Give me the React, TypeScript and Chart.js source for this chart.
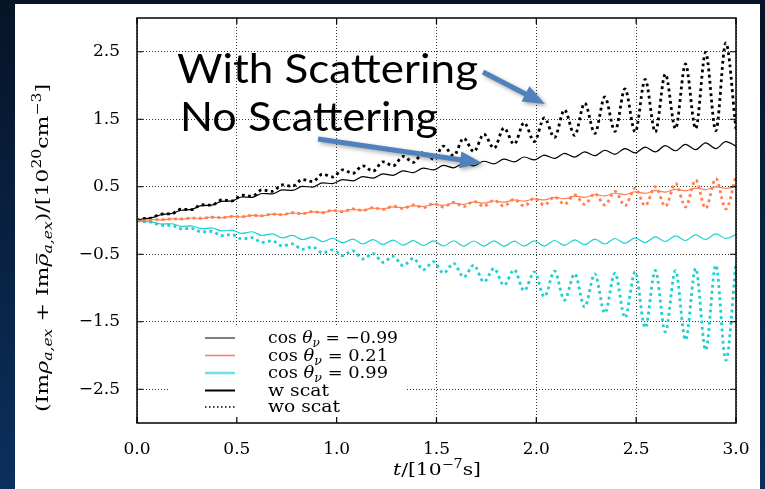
import React, { useEffect, useRef } from "react";
import { Chart, registerables } from "chart.js";
Chart.register(...registerables);

// time samples (units of 1e-7 s), read at the wave extrema
const T = [0.000, 0.020, 0.071, 0.121, 0.172, 0.222, 0.273, 0.323, 0.374, 0.424, 0.475, 0.525, 0.576, 0.626, 0.677, 0.727, 0.778, 0.828, 0.879, 0.929, 0.980,
  1.030, 1.081, 1.131, 1.182, 1.232, 1.283, 1.333, 1.384, 1.434, 1.485, 1.535, 1.586, 1.636, 1.687, 1.737, 1.788, 1.838, 1.889, 1.939, 1.990,
  2.040, 2.091, 2.141, 2.192, 2.242, 2.293, 2.343, 2.394, 2.444, 2.495, 2.545, 2.596, 2.646, 2.697, 2.747, 2.798, 2.848, 2.899, 2.949, 3.000];

// cos theta = -0.99
const NEG099_W = [0, 0.018, 0.040, 0.085, 0.102, 0.152, 0.165, 0.219, 0.227, 0.284, 0.291, 0.348, 0.344, 0.400, 0.394, 0.453, 0.445, 0.505, 0.495, 0.558, 0.546,
  0.607, 0.588, 0.650, 0.629, 0.692, 0.669, 0.735, 0.709, 0.777, 0.750, 0.816, 0.781, 0.847, 0.810, 0.878, 0.839, 0.909, 0.869, 0.941, 0.898,
  0.969, 0.920, 0.993, 0.940, 1.017, 0.960, 1.041, 0.981, 1.066, 1.001, 1.088, 1.017, 1.108, 1.033, 1.128, 1.050, 1.149, 1.066, 1.169, 1.100];
const NEG099_WO = [0, 0.023, 0.037, 0.095, 0.099, 0.167, 0.160, 0.233, 0.227, 0.305, 0.289, 0.374, 0.361, 0.453, 0.431, 0.528, 0.506, 0.608, 0.575, 0.687, 0.645,
  0.75, 0.70, 0.81, 0.73, 0.87, 0.81, 0.95, 0.86, 1.01, 0.91, 1.10, 0.96, 1.22, 1.02, 1.28, 1.07, 1.37, 1.13, 1.45, 1.17,
  1.52, 1.23, 1.64, 1.26, 1.74, 1.29, 1.83, 1.32, 1.95, 1.31, 2.09, 1.31, 2.17, 1.36, 2.32, 1.36, 2.49, 1.33, 2.63, 1.35];
// cos theta = 0.21
const POS021_W = [0, 0.000, 0.013, 0.009, 0.025, 0.019, 0.037, 0.030, 0.049, 0.040, 0.060, 0.052, 0.077, 0.069, 0.094, 0.085, 0.112, 0.102, 0.129, 0.118, 0.147,
  0.135, 0.165, 0.154, 0.183, 0.172, 0.202, 0.189, 0.220, 0.207, 0.239, 0.224, 0.256, 0.240, 0.272, 0.256, 0.289, 0.271, 0.305, 0.287, 0.321,
  0.305, 0.342, 0.324, 0.362, 0.344, 0.383, 0.365, 0.404, 0.384, 0.424, 0.403, 0.442, 0.421, 0.460, 0.439, 0.479, 0.458, 0.497, 0.476, 0.500];
const POS021_WO = [0, 0.000, 0.012, 0.012, 0.024, 0.022, 0.036, 0.033, 0.048, 0.043, 0.060, 0.055, 0.078, 0.070, 0.096, 0.085, 0.115, 0.100, 0.133, 0.115, 0.152,
  0.130, 0.172, 0.148, 0.192, 0.163, 0.212, 0.178, 0.232, 0.190, 0.252, 0.200, 0.270, 0.205, 0.285, 0.210, 0.300, 0.212, 0.315, 0.215, 0.330,
  0.23, 0.35, 0.24, 0.38, 0.24, 0.40, 0.23, 0.43, 0.22, 0.48, 0.22, 0.50, 0.21, 0.55, 0.20, 0.60, 0.18, 0.62, 0.17, 0.66];
// cos theta = 0.99
const POS099_W = [0, -0.015, -0.020, -0.052, -0.048, -0.087, -0.079, -0.123, -0.109, -0.155, -0.142, -0.192, -0.167, -0.222, -0.197, -0.257, -0.221, -0.284, -0.246, -0.313, -0.263,
  -0.330, -0.277, -0.348, -0.283, -0.357, -0.291, -0.365, -0.298, -0.370, -0.302, -0.378, -0.300, -0.380, -0.304, -0.379, -0.302, -0.381, -0.305, -0.380, -0.303,
  -0.376, -0.296, -0.368, -0.287, -0.358, -0.277, -0.348, -0.267, -0.338, -0.257, -0.328, -0.242, -0.311, -0.227, -0.296, -0.212, -0.281, -0.197, -0.266, -0.210];
const POS099_WO = [0, -0.015, -0.024, -0.070, -0.071, -0.122, -0.116, -0.170, -0.162, -0.224, -0.208, -0.274, -0.254, -0.325, -0.300, -0.377, -0.345, -0.427, -0.391, -0.480, -0.435,
  -0.52, -0.45, -0.57, -0.49, -0.62, -0.53, -0.67, -0.56, -0.73, -0.61, -0.78, -0.635, -0.84, -0.66, -0.91, -0.71, -0.96, -0.73, -1.04, -0.76,
  -1.13, -0.75, -1.18, -0.79, -1.28, -0.79, -1.37, -0.78, -1.44, -0.76, -1.59, -0.74, -1.65, -0.74, -1.77, -0.71, -1.92, -0.66, -2.07, -0.62];

const X_TICKS = [0, 0.5, 1.0, 1.5, 2.0, 2.5, 3.0];
const Y_TICKS = [-2.5, -1.5, -0.5, 0.5, 1.5, 2.5];
const LEGEND_COS = ["−0.99", "0.21", "0.99"];
const LEGEND_SCAT = ["w scat", "wo scat"];
const ANNOTATIONS = ["With Scattering", "No Scattering"];

const SERIF = "'DejaVu Serif', serif";
const BLACK = "#000000";
const ORANGE = "#ff7f50";
const CYAN = "#1cd0d0";

type Seg = { t: string; it?: boolean; sz?: number; dy?: number; bar?: boolean };

// draws mixed-style text; fitted to a given overall width
function drawRich(ctx: CanvasRenderingContext2D, segs: Seg[], x: number, y: number, base: number, align: "left" | "center", target: number) {
  const widths: number[] = [];
  let total = 0;
  for (const s of segs) {
    ctx.font = `${s.it ? "italic " : ""}${s.sz || base}px ${SERIF}`;
    const w = ctx.measureText(s.t).width;
    widths.push(w);
    total += w;
  }
  const k = target / total;
  ctx.save();
  ctx.translate(align === "center" ? x - target / 2 : x, y);
  ctx.scale(k, 1);
  ctx.textAlign = "left";
  ctx.textBaseline = "alphabetic";
  let cx = 0;
  segs.forEach((s, i) => {
    const sz = s.sz || base;
    ctx.font = `${s.it ? "italic " : ""}${sz}px ${SERIF}`;
    ctx.fillText(s.t, cx, s.dy || 0);
    if (s.bar) ctx.fillRect(cx + 2, -sz * 0.7, widths[i] - 2, 1.1);
    cx += widths[i];
  });
  ctx.restore();
}

function arrow(ctx: CanvasRenderingContext2D, x1: number, y1: number, x2: number, y2: number) {
  const shaft = 5, headL = 22, headW = 17;
  const ang = Math.atan2(y2 - y1, x2 - x1);
  const len = Math.hypot(x2 - x1, y2 - y1);
  ctx.save();
  ctx.translate(x1, y1);
  ctx.rotate(ang);
  ctx.beginPath();
  ctx.moveTo(0, -shaft / 2);
  ctx.lineTo(len - headL, -shaft / 2);
  ctx.lineTo(len - headL, -headW / 2);
  ctx.lineTo(len, 0);
  ctx.lineTo(len - headL, headW / 2);
  ctx.lineTo(len - headL, shaft / 2);
  ctx.lineTo(0, shaft / 2);
  ctx.closePath();
  ctx.fill();
  ctx.restore();
}

const fmt = (v: number) => (v < 0 ? "−" + Math.abs(v).toFixed(1) : v.toFixed(1));

const decor = {
  id: "decor",
  beforeDraw(chart: any) {
    const { ctx, width, height } = chart;
    ctx.save();
    const g = ctx.createLinearGradient(0, 0, 0, height);
    g.addColorStop(0, "#061427");
    g.addColorStop(1, "#0c2f5d");
    ctx.fillStyle = g;
    ctx.fillRect(0, 0, width, height);
    ctx.fillStyle = "#ffffff";
    ctx.fillRect(15, 4, 745, height - 4);
    ctx.restore();
  },
  beforeDatasetsDraw(chart: any) {
    const { ctx } = chart;
    ctx.save();
    ctx.fillStyle = "#ffffff";
    ctx.fillRect(168, 327, 237, 94);
    const rows = [338, 355.5, 373, 390.5, 407];
    const styles = [
      { c: "#7f7f7f", w: 2, d: [] as number[] },
      { c: ORANGE, w: 1.5, d: [] as number[] },
      { c: "#6fe3e3", w: 2.5, d: [] as number[] },
      { c: BLACK, w: 2, d: [] as number[] },
      { c: BLACK, w: 1.5, d: [1.5, 2.5] },
    ];
    rows.forEach((y, i) => {
      ctx.strokeStyle = styles[i].c;
      ctx.lineWidth = styles[i].w;
      ctx.setLineDash(styles[i].d);
      ctx.beginPath();
      ctx.moveTo(205, y);
      ctx.lineTo(235, y);
      ctx.stroke();
    });
    ctx.setLineDash([]);
    ctx.fillStyle = BLACK;
    const cosW = [130, 120, 120];
    LEGEND_COS.forEach((v, i) => {
      drawRich(ctx, [{ t: "cos " }, { t: "θ", it: true }, { t: "ν", it: true, sz: 12, dy: 4 }, { t: " = " + v }], 268, rows[i] + 5, 17, "left", cosW[i]);
    });
    const scatW = [61, 72];
    LEGEND_SCAT.forEach((v, i) => {
      drawRich(ctx, [{ t: v }], 268, rows[3 + i] + 5, 17, "left", scatW[i]);
    });
    ctx.restore();
  },
  afterDraw(chart: any) {
    const { ctx, chartArea: a, scales } = chart;
    ctx.save();
    // frame
    ctx.strokeStyle = BLACK;
    ctx.lineWidth = 1.5;
    ctx.strokeRect(a.left, a.top, a.right - a.left, a.bottom - a.top);
    ctx.lineWidth = 1.2;
    ctx.beginPath();
    Y_TICKS.forEach((v) => {
      const y = scales.y.getPixelForValue(v);
      ctx.moveTo(a.left, y); ctx.lineTo(a.left + 6, y);
      ctx.moveTo(a.right, y); ctx.lineTo(a.right - 6, y);
    });
    X_TICKS.forEach((v) => {
      const x = scales.x.getPixelForValue(v);
      ctx.moveTo(x, a.bottom); ctx.lineTo(x, a.bottom - 6);
      ctx.moveTo(x, a.top); ctx.lineTo(x, a.top + 6);
    });
    ctx.stroke();
    // axis titles
    ctx.fillStyle = BLACK;
    drawRich(ctx, [{ t: "t", it: true }, { t: "/[10" }, { t: "−7", sz: 12, dy: -7 }, { t: "s]" }], 437, 475, 17, "center", 88);
    ctx.save();
    ctx.translate(48, 248);
    ctx.rotate(-Math.PI / 2);
    drawRich(ctx, [
      { t: "(Im" }, { t: "ρ", it: true }, { t: "a,ex", it: true, sz: 12, dy: 4 },
      { t: " + Im" }, { t: "ρ", it: true, bar: true }, { t: "a,ex", it: true, sz: 12, dy: 4 },
      { t: ")/[10" }, { t: "20", sz: 12, dy: -7 }, { t: "cm" }, { t: "−3", sz: 12, dy: -7 }, { t: "]" },
    ], 0, 0, 17, "center", 328);
    ctx.restore();
    // annotations
    const targets = [{ x: 177, y: 83, w: 301 }, { x: 180, y: 131, w: 258 }];
    ctx.font = "40px Lato, 'Open Sans', sans-serif";
    ctx.textAlign = "left";
    ctx.textBaseline = "alphabetic";
    ctx.fillStyle = BLACK;
    ANNOTATIONS.forEach((s, i) => {
      const m = ctx.measureText(s).width;
      ctx.save();
      ctx.translate(targets[i].x, targets[i].y);
      ctx.scale(targets[i].w / m, 1);
      ctx.fillText(s, 0, 0);
      ctx.restore();
    });
    // arrows
    ctx.fillStyle = "#4f81bd";
    ctx.shadowColor = "rgba(0,0,0,0.35)";
    ctx.shadowBlur = 4;
    ctx.shadowOffsetX = 2;
    ctx.shadowOffsetY = 2;
    arrow(ctx, 483, 72, 545, 104);
    arrow(ctx, 318, 139, 482, 163);
    ctx.restore();
  },
};

const mk = (vals: number[]) => T.map((t, i) => ({ x: t, y: vals[i] }));

export default function App() {
  const ref = useRef<HTMLCanvasElement>(null);
  useEffect(() => {
    if (!ref.current) return;
    const solid = { borderWidth: 1.2, pointRadius: 0, fill: false, cubicInterpolationMode: "monotone" as const };
    const dotted = { borderWidth: 2.8, borderDash: [2.8, 3.4], borderCapStyle: "butt" as const, pointRadius: 0, fill: false, cubicInterpolationMode: "monotone" as const };
    const chart = new Chart(ref.current, {
      type: "line",
      data: {
        datasets: [
          { data: mk(POS021_W), borderColor: ORANGE, ...solid },
          { data: mk(POS099_W), borderColor: CYAN, ...solid },
          { data: mk(NEG099_W), borderColor: BLACK, ...solid },
          { data: mk(POS021_WO), borderColor: ORANGE, ...dotted },
          { data: mk(POS099_WO), borderColor: CYAN, ...dotted },
          { data: mk(NEG099_WO), borderColor: BLACK, ...dotted },
        ],
      },
      options: {
        animation: false,
        responsive: false,
        devicePixelRatio: 1,
        layout: { padding: { left: 0, top: 18, right: 29, bottom: 0 } },
        plugins: { legend: { display: false }, tooltip: { enabled: false } },
        scales: {
          x: {
            type: "linear",
            min: 0,
            max: 3,
            afterBuildTicks: (s: any) => { s.ticks = X_TICKS.map((v) => ({ value: v })); },
            afterFit: (s: any) => { s.height = 66; s.paddingLeft = 0; s.paddingRight = 0; },
            grid: { color: "#333333", lineWidth: 1, drawTicks: false },
            border: { display: false, dash: [1, 2] },
            ticks: { padding: 16, color: BLACK, maxRotation: 0, font: { family: SERIF, size: 17 }, callback: (v: any) => fmt(Number(v)) },
          },
          y: {
            type: "linear",
            min: -3,
            max: 3,
            afterBuildTicks: (s: any) => { s.ticks = Y_TICKS.map((v) => ({ value: v })); },
            afterFit: (s: any) => { s.width = 137; s.paddingTop = 0; s.paddingBottom = 0; },
            grid: { color: "#333333", lineWidth: 1, drawTicks: false },
            border: { display: false, dash: [1, 2] },
            ticks: { padding: 17, color: BLACK, font: { family: SERIF, size: 17 }, callback: (v: any) => fmt(Number(v)) },
          },
        },
      },
      plugins: [decor],
    });
    return () => chart.destroy();
  }, []);
  return (
    <canvas ref={ref} width={765} height={489} style={{ position: "absolute", left: 0, top: 0, width: 765, height: 489 }} />
  );
}
